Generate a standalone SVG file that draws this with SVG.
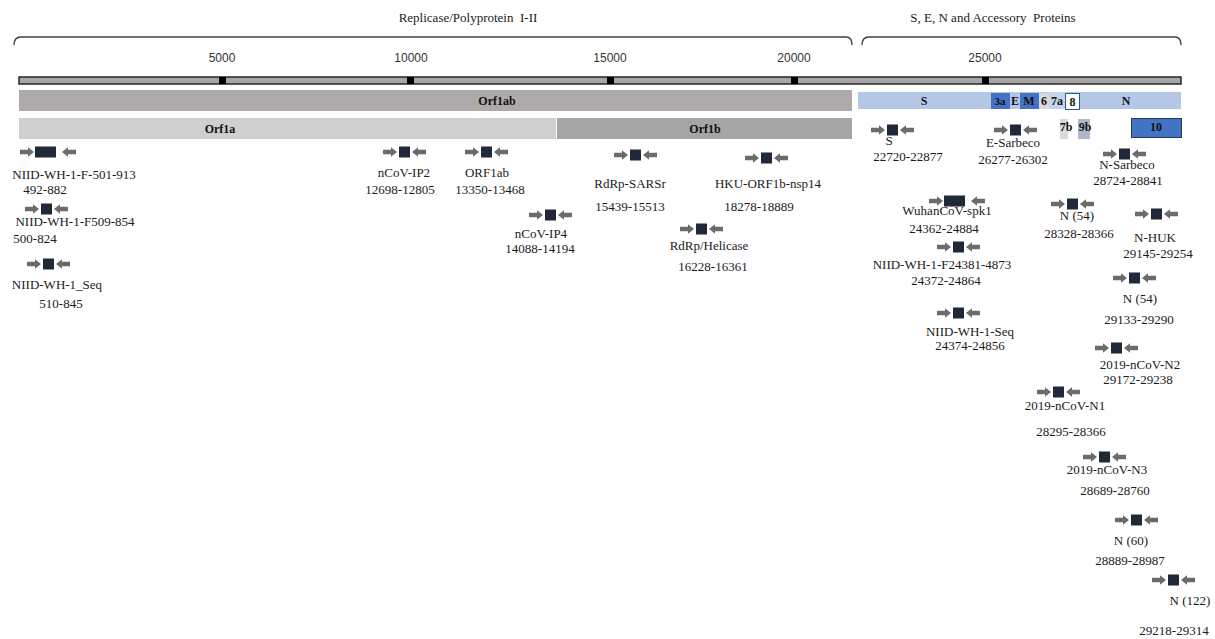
<svg xmlns="http://www.w3.org/2000/svg" xmlns:xlink="http://www.w3.org/1999/xlink" width="1215" height="639" viewBox="0 0 1215 639">
<style>
.t{font-family:"Liberation Serif",serif;font-size:13px;fill:#1a1a1a;text-anchor:middle}
.h{font-family:"Liberation Serif",serif;font-size:13px;fill:#1a1a1a;text-anchor:middle;white-space:pre}
.n{font-family:"Liberation Sans",sans-serif;font-size:12px;fill:#333333;text-anchor:middle}
.b{font-family:"Liberation Serif",serif;font-size:12px;font-weight:bold;fill:#111;text-anchor:middle}
.brace{fill:none;stroke:#404040;stroke-width:1.4}
.arw{fill:#6b6b6b}
.sq{fill:#1f2939}
</style>
<defs>
<path id="ra" class="arw" d="M0,-2.3 H8 V-4.7 L14,0 L8,4.7 V2.3 H0 Z"/>
<path id="la" class="arw" d="M14,-2.3 H6 V-4.7 L0,0 L6,4.7 V2.3 H14 Z"/>
<g id="pr"><use xlink:href="#ra" x="0"/><rect class="sq" x="16" y="-5.5" width="11" height="11"/><use xlink:href="#la" x="29"/></g>
<g id="pw"><use xlink:href="#ra" x="0"/><rect class="sq" x="15" y="-5.5" width="21" height="11"/><use xlink:href="#la" x="42"/></g>
</defs>
<rect width="1215" height="639" fill="#fff"/>

<g id="headers">
<text class="h" x="468" y="22" xml:space="preserve">Replicase/Polyprotein  I-II</text>
<text class="h" x="993" y="22" xml:space="preserve">S, E, N and Accessory  Proteins</text>
<path class="brace" d="M14,45 Q14,37 21,37 H846 Q852,37 852,45"/>
<path class="brace" d="M862,45 Q862,37 869,37 H1175 Q1181,37 1181,45"/>
</g>

<g id="scale">
<text class="n" x="222" y="62">5000</text>
<text class="n" x="411" y="62">10000</text>
<text class="n" x="610" y="62">15000</text>
<text class="n" x="794" y="62">20000</text>
<text class="n" x="985" y="62">25000</text>
<rect x="19" y="77" width="1162" height="7" fill="#a6a6a6" stroke="#262626" stroke-width="1.5"/>
<rect x="219" y="77" width="7" height="7" fill="#000"/>
<rect x="407" y="77" width="7" height="7" fill="#000"/>
<rect x="607" y="77" width="7" height="7" fill="#000"/>
<rect x="791" y="77" width="7" height="7" fill="#000"/>
<rect x="982" y="77" width="7" height="7" fill="#000"/>
</g>

<g id="orf1ab"><rect x="19" y="90" width="833" height="21" fill="#aeaaaa"/><text class="b" x="497" y="105">Orf1ab</text></g>
<g id="orf1a"><rect x="19" y="118" width="537" height="21" fill="#d0cece"/><text class="b" x="220" y="133">Orf1a</text></g>
<g id="orf1b"><rect x="557" y="118" width="295" height="21" fill="#a5a5a5"/><text class="b" x="705" y="133">Orf1b</text></g>

<g id="structural">
<rect x="858" y="92" width="323" height="17" fill="#b4c7e7"/>
<text class="b" x="924" y="105">S</text>
<g id="g3a"><rect x="991" y="93" width="19" height="16" fill="#4472c4"/><text class="b" x="1000" y="105" style="font-size:11px">3a</text></g>
<g id="gE"><text class="b" x="1015" y="105">E</text></g>
<g id="gM"><rect x="1020" y="93" width="19" height="16" fill="#4472c4"/><text class="b" x="1029" y="105">M</text></g>
<g id="g6"><rect x="1039" y="93" width="10" height="16" fill="#d9d9d9"/><text class="b" x="1044" y="105">6</text></g>
<g id="g7a"><rect x="1049" y="92" width="16" height="17" fill="#c5d4ee"/><text class="b" x="1057" y="105">7a</text></g>
<g id="g8"><rect x="1065.5" y="93.5" width="14" height="16" fill="#fff" stroke="#2f5597" stroke-width="1"/><text class="b" x="1072.5" y="106">8</text></g>
<g id="gN"><text class="b" x="1126" y="105">N</text></g>
<g id="g7b"><rect x="1060" y="119" width="8" height="20" fill="#d9d9d9"/><text class="b" x="1066" y="131">7b</text></g>
<g id="g9b"><rect x="1078" y="119" width="12" height="20" fill="#adb9ca"/><text class="b" x="1085" y="131">9b</text></g>
<g id="g10"><rect x="1131.5" y="118.5" width="50" height="19" fill="#4472c4" stroke="#1f3864" stroke-width="1"/><text class="b" x="1156" y="131">10</text></g>
</g>

<g id="connectors"></g>

<g id="p1"><use xlink:href="#pw" x="20" y="152"/><text class="t" x="74" y="179">NIID-WH-1-F-501-913</text><text class="t" x="45" y="194">492-882</text></g>
<g id="p2"><use xlink:href="#pr" x="25" y="209"/><text class="t" x="75" y="226">NIID-WH-1-F509-854</text><text class="t" x="35" y="243">500-824</text></g>
<g id="p3"><use xlink:href="#pr" x="27" y="264"/><text class="t" x="57" y="289">NIID-WH-1_Seq</text><text class="t" x="61" y="308">510-845</text></g>
<g id="p4"><use xlink:href="#pr" x="383" y="152"/><text class="t" x="404" y="177">nCoV-IP2</text><text class="t" x="400" y="194">12698-12805</text></g>
<g id="p5"><use xlink:href="#pr" x="465" y="152"/><text class="t" x="487" y="177">ORF1ab</text><text class="t" x="490" y="194">13350-13468</text></g>
<g id="p6"><use xlink:href="#pr" x="529" y="215"/><text class="t" x="541" y="238">nCoV-IP4</text><text class="t" x="540" y="253">14088-14194</text></g>
<g id="p7"><use xlink:href="#pr" x="614" y="155"/><text class="t" x="630" y="188">RdRp-SARSr</text><text class="t" x="630" y="211">15439-15513</text></g>
<g id="p8"><use xlink:href="#pr" x="745" y="158"/><text class="t" x="768" y="188">HKU-ORF1b-nsp14</text><text class="t" x="759" y="211">18278-18889</text></g>
<g id="p9"><use xlink:href="#pr" x="680" y="229"/><text class="t" x="709" y="250">RdRp/Helicase</text><text class="t" x="713" y="271">16228-16361</text></g>

<g id="p10"><use xlink:href="#pr" x="871" y="130"/><text class="t" x="889" y="145">S</text><text class="t" x="908" y="161">22720-22877</text></g>
<g id="p11"><use xlink:href="#pr" x="994" y="130"/><text class="t" x="1013" y="147">E-Sarbeco</text><text class="t" x="1013" y="164">26277-26302</text></g>
<g id="p12"><use xlink:href="#pr" x="1103" y="154"/><text class="t" x="1127" y="169">N-Sarbeco</text><text class="t" x="1128" y="185">28724-28841</text></g>
<g id="p13"><use xlink:href="#pw" x="929" y="201"/><text class="t" x="947" y="215">WuhanCoV-spk1</text><text class="t" x="944" y="233">24362-24884</text></g>
<g id="p14"><use xlink:href="#pr" x="1051" y="204"/><text class="t" x="1077" y="220">N (54)</text><text class="t" x="1079" y="238">28328-28366</text></g>
<g id="p15"><use xlink:href="#pr" x="1135" y="214"/><text class="t" x="1155" y="242">N-HUK</text><text class="t" x="1158" y="258">29145-29254</text></g>
<g id="p16"><use xlink:href="#pr" x="937" y="247"/><text class="t" x="942" y="269">NIID-WH-1-F24381-4873</text><text class="t" x="946" y="285">24372-24864</text></g>
<g id="p17"><use xlink:href="#pr" x="1113" y="278"/><text class="t" x="1140" y="303">N (54)</text><text class="t" x="1139" y="324">29133-29290</text></g>
<g id="p18"><use xlink:href="#pr" x="937" y="313"/><text class="t" x="970" y="336">NIID-WH-1-Seq</text><text class="t" x="970" y="350">24374-24856</text></g>
<g id="p19"><use xlink:href="#pr" x="1095" y="348"/><text class="t" x="1140" y="369">2019-nCoV-N2</text><text class="t" x="1138" y="384">29172-29238</text></g>
<g id="p20"><use xlink:href="#pr" x="1037" y="392"/><text class="t" x="1065" y="410">2019-nCoV-N1</text><text class="t" x="1071" y="436">28295-28366</text></g>
<g id="p21"><use xlink:href="#pr" x="1083" y="457"/><text class="t" x="1107" y="474">2019-nCoV-N3</text><text class="t" x="1115" y="495">28689-28760</text></g>
<g id="p22"><use xlink:href="#pr" x="1115" y="520"/><text class="t" x="1131" y="545">N (60)</text><text class="t" x="1130" y="565">28889-28987</text></g>
<g id="p23"><use xlink:href="#pr" x="1152" y="580"/><text class="t" x="1190" y="605">N (122)</text><text class="t" x="1174" y="635">29218-29314</text></g>
</svg>
